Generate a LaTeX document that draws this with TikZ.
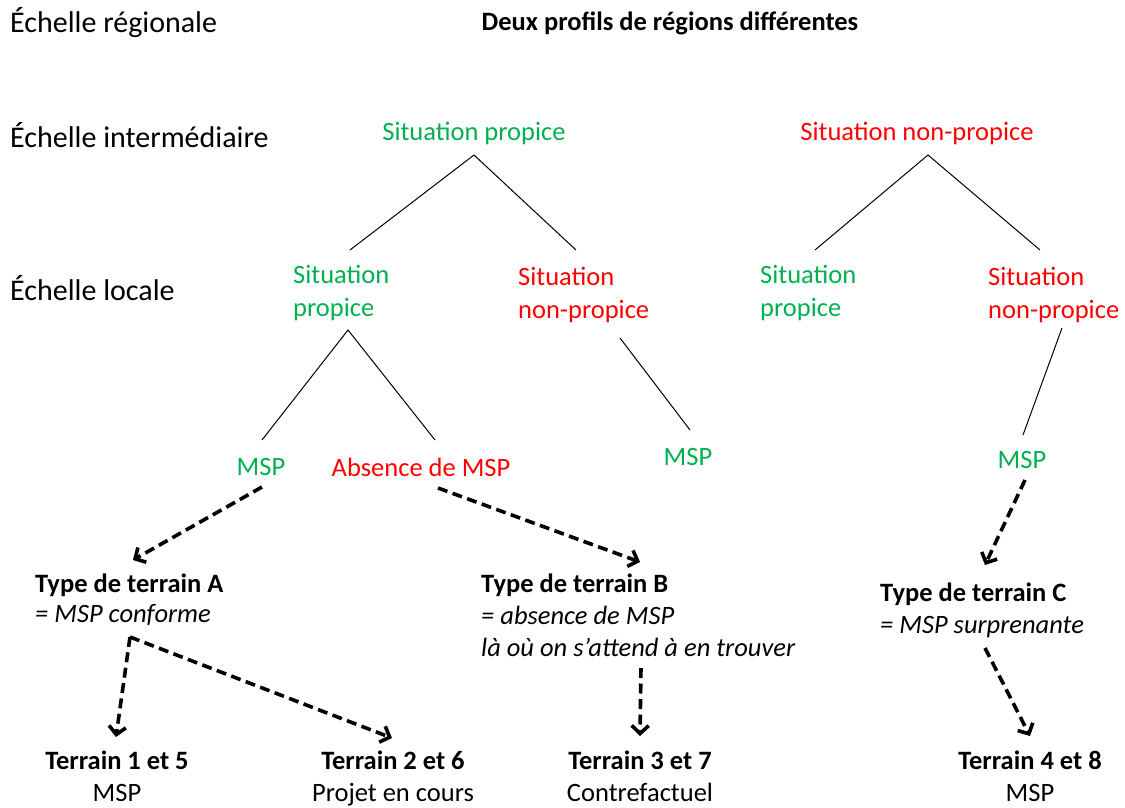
\documentclass[tikz,border=0pt]{standalone}
\usepackage{fontspec}
\setmainfont{Carlito}
\usetikzlibrary{arrows.meta}
\definecolor{vert}{HTML}{00B050}
\definecolor{rouge}{HTML}{FF0000}
\tikzset{
  lbl/.style={font=\fontsize{30}{36}\selectfont, anchor=base west, inner sep=0pt},
  tt/.style={font=\fontsize{26.5}{32}\selectfont, inner sep=0pt, anchor=base},
  two/.style={tt, align=left, anchor=base west},
  thin/.style={line width=1pt, black},
  darr/.style={line width=3.6pt, dash pattern=on 10pt off 5.5pt, -{Straight Barb[length=8pt,width=17pt,line width=3.6pt]}},
}
\begin{document}
\begin{tikzpicture}[x=1pt,y=-1pt]
\useasboundingbox (0,0) rectangle (1125,807);
% scale labels
\node[lbl] (reg) at (10,32) {Échelle régionale};
\node[lbl] (inter) at (10,147) {Échelle intermédiaire};
\node[lbl] (loc) at (10,300) {Échelle locale};
\node[tt, font=\fontsize{26.5}{32}\selectfont\bfseries] (title) at (670,30) {Deux profils de régions différentes};
% intermediate
\node[tt, text=vert] (ip) at (474,140) {Situation propice};
\node[tt, text=rouge] (inp) at (917,140) {Situation non-propice};
% local (base anchor = baseline of last line)
\node[two, text=vert] (lp1) at (293,316) {Situation\\[1pt]propice};
\node[two, text=rouge] (lnp1) at (518,318) {Situation\\[1pt]non-propice};
\node[two, text=vert] (lp2) at (760,316) {Situation\\[1pt]propice};
\node[two, text=rouge] (lnp2) at (988,318) {Situation\\[1pt]non-propice};
% MSP level
\node[tt, text=vert] (msp1) at (261,475) {MSP};
\node[tt, text=rouge] (abs) at (421,476) {Absence de MSP};
\node[tt, text=vert] (msp2) at (688,465) {MSP};
\node[tt, text=vert] (msp3) at (1022,468) {MSP};
% types
\node[two] (tA) at (35,622) {\textbf{Type de terrain A}\\[-2pt]\textit{= MSP conforme}};
\node[two] (tB) at (481,656) {\textbf{Type de terrain B}\\\textit{= absence de MSP}\\\textit{là où on s’attend à en trouver}};
\node[two] (tC) at (880,633) {\textbf{Type de terrain C}\\\textit{= MSP surprenante}};
% terrains
\node[tt, align=center] (t15) at (117,801) {\textbf{Terrain 1 et 5}\\MSP};
\node[tt, align=center] (t26) at (393,801) {\textbf{Terrain 2 et 6}\\Projet en cours};
\node[tt, align=center] (t37) at (640,801) {\textbf{Terrain 3 et 7}\\Contrefactuel};
\node[tt, align=center] (t48) at (1030,801) {\textbf{Terrain 4 et 8}\\MSP};
% coordinates for tree lines
\coordinate (ipB) at (474,155);
\coordinate (lp1T) at (350,250);
\coordinate (lnp1T) at (576,250);
\coordinate (inpB) at (928,155);
\coordinate (lp2T) at (815,250);
\coordinate (lnp2T) at (1040,250);
\coordinate (lp1B) at (348,330);
\coordinate (msp1T) at (262,440);
\coordinate (absT) at (435,440);
\coordinate (lnp1B) at (620,338);
\coordinate (msp2T) at (690,430);
\coordinate (lnp2B) at (1062,328);
\coordinate (msp3T) at (1023,435);
\draw[thin] (lp1T) -- (ipB) -- (lnp1T);
\draw[thin] (lp2T) -- (inpB) -- (lnp2T);
\draw[thin] (msp1T) -- (lp1B) -- (absT);
\draw[thin] (lnp1B) -- (msp2T);
\draw[thin] (lnp2B) -- (msp3T);
% dashed arrows
\coordinate (msp1B) at (262,487);
\coordinate (tAT) at (133,560);
\coordinate (absB) at (438,488);
\coordinate (tBT) at (640,562);
\coordinate (msp3B) at (1025,480);
\coordinate (tCT) at (985,565);
\coordinate (tAB) at (130,637);
\coordinate (t15T) at (116,737);
\coordinate (t26T) at (392,738);
\coordinate (tBB) at (641,668);
\coordinate (t37T) at (640,736);
\coordinate (tCB) at (985,648);
\coordinate (t48T) at (1030,736);
\draw[darr] (msp1B) -- (tAT);
\draw[darr] (absB) -- (tBT);
\draw[darr] (msp3B) -- (tCT);
\draw[darr] (tAB) -- (t15T);
\draw[darr] (tAB) -- (t26T);
\draw[darr] (tBB) -- (t37T);
\draw[darr] (tCB) -- (t48T);
\end{tikzpicture}
\end{document}
